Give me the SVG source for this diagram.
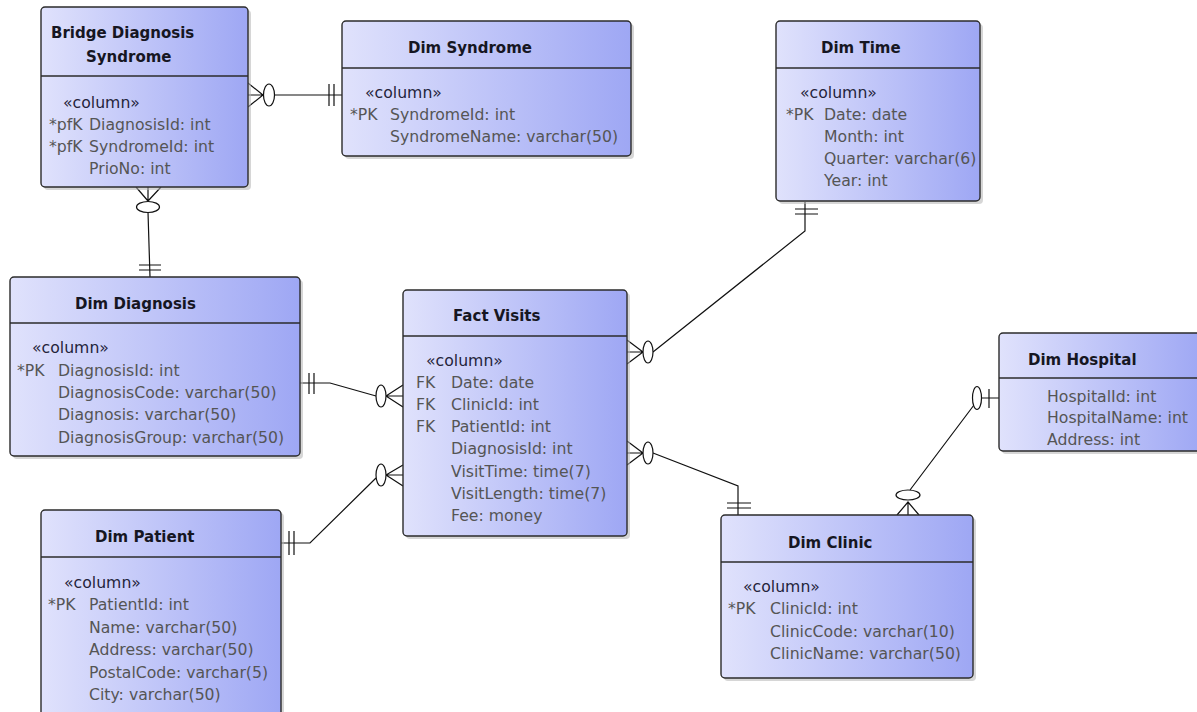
<svg xmlns="http://www.w3.org/2000/svg" width="1197" height="712" viewBox="0 0 1197 712">
  <defs>
    <linearGradient id="fill" x1="0" y1="0" x2="1" y2="0">
      <stop offset="0" stop-color="#e0e2fc"/>
      <stop offset="1" stop-color="#9ea7f4"/>
    </linearGradient>
    <style>
      .shadow { fill: #b4b4b4; opacity: 0.55; }
      .box { fill: url(#fill); stroke: #2b2b2b; stroke-width: 1.4; }
      .div { stroke: #2b2b2b; stroke-width: 1.3; }
      .t { font-family: "DejaVu Sans", sans-serif; font-weight: bold; font-size: 15px; fill: #161622; }
      .st { font-family: "DejaVu Sans", sans-serif; font-size: 15.7px; fill: #24243a; }
      .a { font-family: "DejaVu Sans", sans-serif; font-size: 15.7px; fill: #555; }
      .c { fill: none; stroke: #111; stroke-width: 1.2; }
      .o { fill: #fff; stroke: #111; stroke-width: 1.2; }
    </style>
  </defs>
  <rect width="1197" height="712" fill="#fff"/>

  <!-- relationships -->
  <g id="connectors">
    <!-- Bridge Diagnosis Syndrome >o——|| Dim Syndrome -->
    <path class="c" d="M274,95 H342 M329,84 V106 M334,84 V106 M248,83 L263,95 L248,107 M248,95 H263"/>
    <ellipse class="o" cx="269" cy="95" rx="5.5" ry="11"/>
    <!-- Bridge Diagnosis Syndrome >o——|| Dim Diagnosis -->
    <path class="c" d="M148,212 L150,277 M139,265 H161 M139,270 H161 M136,187 L148,201 L161,187 M148,187 V201"/>
    <ellipse class="o" cx="148" cy="207" rx="11.5" ry="5.5"/>
    <!-- Dim Diagnosis ||——o< Fact Visits -->
    <path class="c" d="M300,383 H330 L376,396 M309,373 V394 M314,373 V394 M403,385 L386,396 L403,407 M403,396 H386"/>
    <ellipse class="o" cx="381" cy="396" rx="5" ry="11"/>
    <!-- Dim Patient ||——o< Fact Visits -->
    <path class="c" d="M281,543 H310 L376,478 M289,531 V555 M294,531 V555 M403,465 L386,475 L403,486 M403,475 H386"/>
    <ellipse class="o" cx="381" cy="475" rx="5" ry="11"/>
    <!-- Fact Visits >o——|| Dim Time -->
    <path class="c" d="M653,352 L805,231 V202 M795,209 H818 M795,214 H818 M627,340 L643,352 L627,364 M627,352 H643"/>
    <ellipse class="o" cx="648" cy="352" rx="5" ry="11"/>
    <!-- Fact Visits >o——|| Dim Clinic -->
    <path class="c" d="M653,453 L738,486 V515 M727,503 H751 M727,508 H751 M627,441 L643,453 L627,465 M627,453 H643"/>
    <ellipse class="o" cx="648" cy="453" rx="5" ry="11"/>
    <!-- Dim Clinic >o——o| Dim Hospital -->
    <path class="c" d="M910,490 L974,405 M982,398 H999 M989,389 V408 M897,515 L908,502 L919,515 M908,515 V502"/>
    <ellipse class="o" cx="908" cy="495" rx="12" ry="5"/>
    <ellipse class="o" cx="977" cy="398" rx="4.5" ry="11.5"/>
  </g>

  <g id="bridge-diagnosis-syndrome">
    <rect class="shadow" x="44" y="10" width="207" height="180" rx="4"/>
    <rect class="box" x="41" y="7" width="207" height="180" rx="4"/>
    <line class="div" x1="41" y1="76" x2="248" y2="76"/>
    <text class="t" x="51" y="38">Bridge Diagnosis</text>
    <text class="t" x="86" y="62">Syndrome</text>
    <text class="st" x="63" y="108">«column»</text>
    <text class="a" x="49" y="130">*pfK</text><text class="a" x="89" y="130">DiagnosisId: int</text>
    <text class="a" x="49" y="152">*pfK</text><text class="a" x="89" y="152">SyndromeId: int</text>
    <text class="a" x="89" y="174">PrioNo: int</text>
  </g>

  <g id="dim-syndrome">
    <rect class="shadow" x="345" y="24" width="289" height="135" rx="4"/>
    <rect class="box" x="342" y="21" width="289" height="135" rx="4"/>
    <line class="div" x1="342" y1="68" x2="631" y2="68"/>
    <text class="t" x="408" y="53">Dim Syndrome</text>
    <text class="st" x="365" y="98">«column»</text>
    <text class="a" x="350" y="120">*PK</text><text class="a" x="390" y="120">SyndromeId: int</text>
    <text class="a" x="390" y="142">SyndromeName: varchar(50)</text>
  </g>

  <g id="dim-time">
    <rect class="shadow" x="779" y="24" width="204" height="180" rx="4"/>
    <rect class="box" x="776" y="21" width="204" height="180" rx="4"/>
    <line class="div" x1="776" y1="68" x2="980" y2="68"/>
    <text class="t" x="821" y="53">Dim Time</text>
    <text class="st" x="800" y="98">«column»</text>
    <text class="a" x="786" y="120">*PK</text><text class="a" x="824" y="120">Date: date</text>
    <text class="a" x="824" y="142">Month: int</text>
    <text class="a" x="824" y="164">Quarter: varchar(6)</text>
    <text class="a" x="824" y="186">Year: int</text>
  </g>

  <g id="dim-diagnosis">
    <rect class="shadow" x="13" y="280" width="290" height="179" rx="4"/>
    <rect class="box" x="10" y="277" width="290" height="179" rx="4"/>
    <line class="div" x1="10" y1="323" x2="300" y2="323"/>
    <text class="t" x="75" y="309">Dim Diagnosis</text>
    <text class="st" x="32" y="353">«column»</text>
    <text class="a" x="17" y="376">*PK</text><text class="a" x="58" y="376">DiagnosisId: int</text>
    <text class="a" x="58" y="398">DiagnosisCode: varchar(50)</text>
    <text class="a" x="58" y="420">Diagnosis: varchar(50)</text>
    <text class="a" x="58" y="443">DiagnosisGroup: varchar(50)</text>
  </g>

  <g id="fact-visits">
    <rect class="shadow" x="406" y="293" width="224" height="246" rx="4"/>
    <rect class="box" x="403" y="290" width="224" height="246" rx="4"/>
    <line class="div" x1="403" y1="336" x2="627" y2="336"/>
    <text class="t" x="453" y="321">Fact Visits</text>
    <text class="st" x="426" y="366">«column»</text>
    <text class="a" x="416" y="388">FK</text><text class="a" x="451" y="388">Date: date</text>
    <text class="a" x="416" y="410">FK</text><text class="a" x="451" y="410">ClinicId: int</text>
    <text class="a" x="416" y="432">FK</text><text class="a" x="451" y="432">PatientId: int</text>
    <text class="a" x="451" y="454">DiagnosisId: int</text>
    <text class="a" x="451" y="477">VisitTime: time(7)</text>
    <text class="a" x="451" y="499">VisitLength: time(7)</text>
    <text class="a" x="451" y="521">Fee: money</text>
  </g>

  <g id="dim-patient">
    <rect class="shadow" x="44" y="513" width="240" height="220" rx="4"/>
    <rect class="box" x="41" y="510" width="240" height="220" rx="4"/>
    <line class="div" x1="41" y1="557" x2="281" y2="557"/>
    <text class="t" x="95" y="542">Dim Patient</text>
    <text class="st" x="64" y="588">«column»</text>
    <text class="a" x="48" y="610">*PK</text><text class="a" x="89" y="610">PatientId: int</text>
    <text class="a" x="89" y="633">Name: varchar(50)</text>
    <text class="a" x="89" y="655">Address: varchar(50)</text>
    <text class="a" x="89" y="678">PostalCode: varchar(5)</text>
    <text class="a" x="89" y="700">City: varchar(50)</text>
  </g>

  <g id="dim-clinic">
    <rect class="shadow" x="724" y="518" width="252" height="163" rx="4"/>
    <rect class="box" x="721" y="515" width="252" height="163" rx="4"/>
    <line class="div" x1="721" y1="562" x2="973" y2="562"/>
    <text class="t" x="788" y="548">Dim Clinic</text>
    <text class="st" x="743" y="592">«column»</text>
    <text class="a" x="728" y="614">*PK</text><text class="a" x="770" y="614">ClinicId: int</text>
    <text class="a" x="770" y="637">ClinicCode: varchar(10)</text>
    <text class="a" x="770" y="659">ClinicName: varchar(50)</text>
  </g>

  <g id="dim-hospital">
    <rect class="shadow" x="1002" y="336" width="205" height="118" rx="4"/>
    <rect class="box" x="999" y="333" width="205" height="118" rx="4"/>
    <line class="div" x1="999" y1="378" x2="1204" y2="378"/>
    <text class="t" x="1028" y="365">Dim Hospital</text>
    <text class="a" x="1047" y="402">HospitalId: int</text>
    <text class="a" x="1047" y="423">HospitalName: int</text>
    <text class="a" x="1047" y="445">Address: int</text>
  </g>
</svg>
